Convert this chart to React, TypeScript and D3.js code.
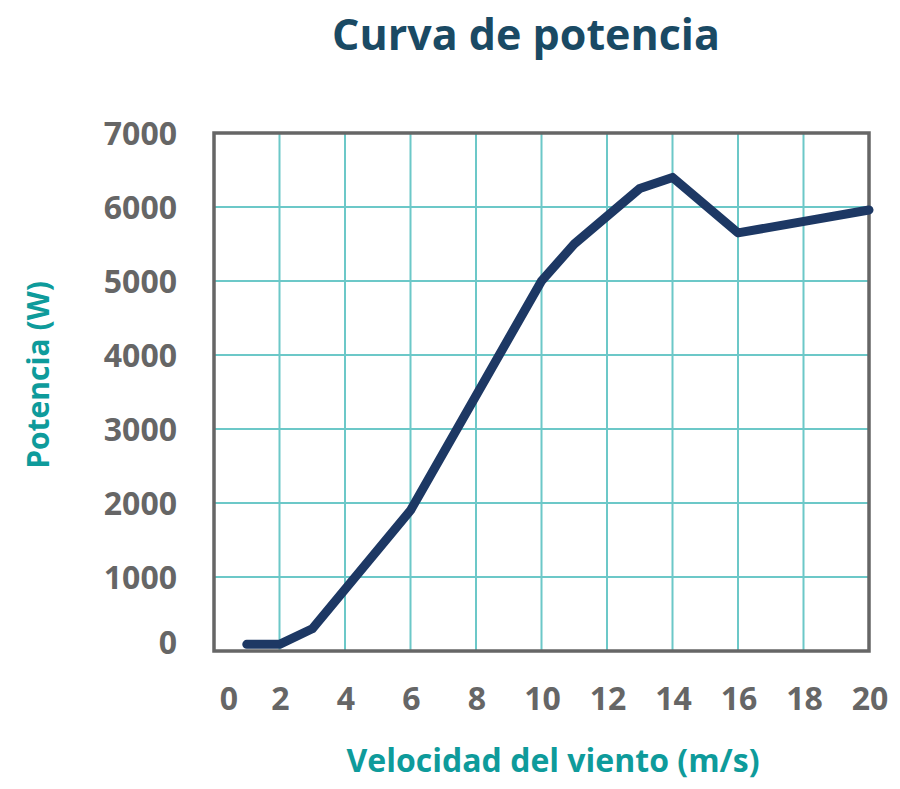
import React from "react";
import * as d3 from "d3";

const windSpeed = [1, 2, 3, 6, 10, 11, 13, 14, 16, 20];
const power = [90, 90, 300, 1900, 5000, 5500, 6250, 6400, 5650, 5960];
const xTicks = [0, 2, 4, 6, 8, 10, 12, 14, 16, 18, 20];
const yTicks = [0, 1000, 2000, 3000, 4000, 5000, 6000, 7000];
const title = "Curva de potencia";
const xTitle = "Velocidad del viento (m/s)";
const yTitle = "Potencia (W)";

const W = 900, H = 789;
const L = 214, R = 869, T = 133, B = 651;
const FONT = "'Open Sans', sans-serif";

export default function App() {
  const x = d3.scaleLinear().domain([0, 20]).range([L, R]);
  const y = d3.scaleLinear().domain([0, 7000]).range([B, T]);
  const pts = windSpeed.map((v, i) => [v, power[i]] as [number, number]);
  const line = d3.line<[number, number]>().x(d => x(d[0])).y(d => y(d[1]));
  return (
    <svg width={W} height={H} style={{ position: "absolute", left: 0, top: 0 }}>
      <rect width={W} height={H} fill="#fff" />
      <text x={526} y={50} textAnchor="middle" fontFamily={FONT} fontWeight={700} fontSize={43} fill="#1a4a64">{title}</text>
      {xTicks.filter(t => t > 0 && t < 20).map(t => (
        <line key={"gx" + t} x1={x(t)} x2={x(t)} y1={T} y2={B} stroke="#6cc8c8" strokeWidth={2} />
      ))}
      {yTicks.filter(t => t > 0 && t < 7000).map(t => (
        <line key={"gy" + t} x1={L} x2={R} y1={y(t)} y2={y(t)} stroke="#6cc8c8" strokeWidth={2} />
      ))}
      <rect x={L} y={T} width={R - L} height={B - T} fill="none" stroke="#666" strokeWidth={3.5} />
      <path d={line(pts) || ""} fill="none" stroke="#1d3864" strokeWidth={9} strokeLinejoin="round" strokeLinecap="round" />
      {yTicks.map(t => (
        <text key={"ly" + t} x={177} y={y(t) + (t === 0 ? 3 : 12)} textAnchor="end" fontFamily={FONT} fontWeight={700} fontSize={32} fill="#666">{t}</text>
      ))}
      {xTicks.map(t => (
        <text key={"lx" + t} x={x(t) + (t === 0 ? 15 : 1)} y={710} textAnchor="middle" fontFamily={FONT} fontWeight={700} fontSize={32} fill="#666">{t}</text>
      ))}
      <text x={553} y={772} textAnchor="middle" fontFamily={FONT} fontWeight={700} fontSize={32} fill="#0e9b9b">{xTitle}</text>
      <text transform={`translate(49,${375}) rotate(-90)`} textAnchor="middle" fontFamily={FONT} fontWeight={700} fontSize={30} fill="#0e9b9b">{yTitle}</text>
    </svg>
  );
}
